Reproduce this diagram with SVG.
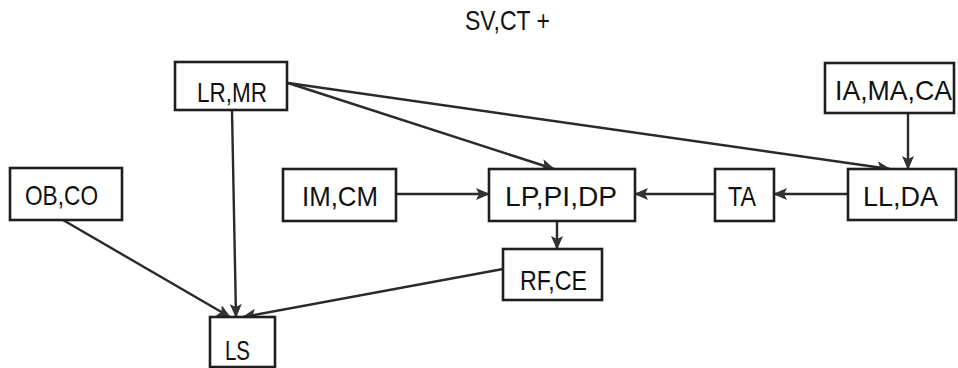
<svg xmlns="http://www.w3.org/2000/svg" width="958" height="368" viewBox="0 0 958 368">
<style>
.box{fill:#fff;stroke:#1e1e1e;stroke-width:2.6}
.lbl{font-family:"Liberation Sans",Arial,sans-serif;font-size:28px;fill:#111;text-anchor:start}
.edge{fill:none;stroke:#2a2a2a;stroke-width:2.4;marker-end:url(#arr)}
</style>
<defs>
<marker id="arr" markerUnits="userSpaceOnUse" viewBox="0 0 14 12" refX="13" refY="6" markerWidth="14" markerHeight="12" orient="auto">
<path d="M0,0 L14,6 L0,12 L3,6 Z" fill="#333"/>
</marker>
</defs>
<rect width="958" height="368" fill="#fff"/>
<text class="lbl" x="465" y="30" font-size="25" textLength="85" lengthAdjust="spacingAndGlyphs">SV,CT +</text>
<g id="edges">
<path class="edge" d="M232,110 L236,317"/>
<path class="edge" d="M63,220 L230,317"/>
<path class="edge" d="M503,269 L243,317"/>
<path class="edge" d="M288,83 L554,169"/>
<path class="edge" d="M288,83 L890,169"/>
<path class="edge" d="M908,113 L908,169"/>
<path class="edge" d="M848,194 L774,194"/>
<path class="edge" d="M715,194 L635,194"/>
<path class="edge" d="M396,194 L489,194"/>
<path class="edge" d="M557,221 L557,249"/>
</g>
<g id="LRMR"><rect class="box" x="175" y="62" width="112" height="48"/><text class="lbl" x="197" y="102" textLength="70" lengthAdjust="spacingAndGlyphs">LR,MR</text></g>
<g id="IAMACA"><rect class="box" x="825" y="63" width="129" height="50"/><text class="lbl" x="835" y="100" textLength="117" lengthAdjust="spacingAndGlyphs">IA,MA,CA</text></g>
<g id="OBCO"><rect class="box" x="10" y="168" width="112" height="52"/><text class="lbl" x="25" y="205" textLength="73" lengthAdjust="spacingAndGlyphs">OB,CO</text></g>
<g id="IMCM"><rect class="box" x="283" y="169" width="113" height="52"/><text class="lbl" x="302" y="206" textLength="76" lengthAdjust="spacingAndGlyphs">IM,CM</text></g>
<g id="LPPIDP"><rect class="box" x="489" y="169" width="146" height="52"/><text class="lbl" x="505" y="206" textLength="112" lengthAdjust="spacingAndGlyphs">LP,PI,DP</text></g>
<g id="TA"><rect class="box" x="715" y="169" width="59" height="52"/><text class="lbl" x="728" y="206" textLength="28" lengthAdjust="spacingAndGlyphs">TA</text></g>
<g id="LLDA"><rect class="box" x="848" y="169" width="108" height="51"/><text class="lbl" x="863" y="206" textLength="75" lengthAdjust="spacingAndGlyphs">LL,DA</text></g>
<g id="RFCE"><rect class="box" x="503" y="249" width="99" height="51"/><text class="lbl" x="520" y="290" textLength="67" lengthAdjust="spacingAndGlyphs">RF,CE</text></g>
<g id="LS"><rect class="box" x="210" y="317" width="65" height="50"/><text class="lbl" x="225" y="360" textLength="25" lengthAdjust="spacingAndGlyphs">LS</text></g>
</svg>
